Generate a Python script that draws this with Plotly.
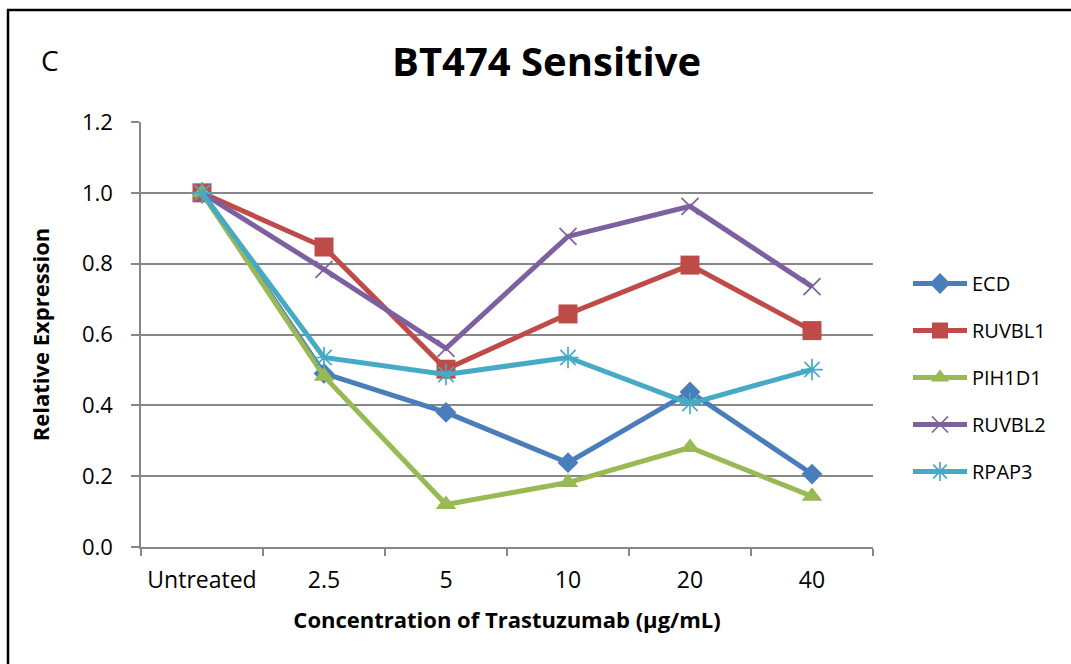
import plotly.graph_objects as go

categories = ["Untreated", "2.5", "5", "10", "20", "40"]
ecd = [1.0, 0.49, 0.38, 0.238, 0.438, 0.206]
ruvbl1 = [1.0, 0.847, 0.502, 0.658, 0.796, 0.611]
pih1d1 = [1.0, 0.482, 0.12, 0.182, 0.281, 0.143]
ruvbl2 = [1.0, 0.784, 0.561, 0.877, 0.962, 0.735]
rpap3 = [1.0, 0.535, 0.487, 0.535, 0.405, 0.501]
y_ticks = [0.0, 0.2, 0.4, 0.6, 0.8, 1.0, 1.2]

FONT = "Open Sans"
W, H = 1071, 664
L, R, T, B = 141, 873, 122, 547

series = [
    ("ECD", ecd, "#4A7EBB", dict(symbol="diamond", size=16)),
    ("RUVBL1", ruvbl1, "#BE4B48", dict(symbol="square", size=19)),
    ("PIH1D1", pih1d1, "#98B954", dict(symbol="triangle-up", size=18)),
    ("RUVBL2", ruvbl2, "#7D60A0", dict(symbol="x-thin-open", size=17, line=dict(width=1.7, color="#7D60A0"))),
    ("RPAP3", rpap3, "#46AAC5", dict(symbol="asterisk-open", size=18, line=dict(width=1.7, color="#46AAC5"))),
]

fig = go.Figure()
for name, vals, color, mk in series:
    m = dict(color=color)
    m.update(mk)
    fig.add_trace(go.Scatter(
        x=categories, y=vals, name=name, mode="lines+markers",
        line=dict(color=color, width=5), marker=m, legendgroup=name,
    ))

def px(x):
    return (x - L) / (R - L)

def py(y):
    return (B - y) / (B - T)

fig.update_layout(
    width=W, height=H,
    margin=dict(l=L, r=W - R, t=T, b=H - B),
    paper_bgcolor="white", plot_bgcolor="white",
    font=dict(family=FONT, size=20, color="black"),
    showlegend=True,
    legend=dict(x=px(908), y=py(264), xanchor="left", yanchor="top",
                font=dict(family=FONT, size=20, color="black"),
                tracegroupgap=18, itemwidth=54, bgcolor="rgba(0,0,0,0)"),
    xaxis=dict(type="category", tickson="boundaries", ticks="outside", ticklen=7,
               tickcolor="#878787", tickwidth=1.5, showline=True, linecolor="#878787",
               linewidth=1.5, showgrid=False, tickfont=dict(family=FONT, size=23),
               ticklabelstandoff=12,
               title=dict(text="<b>Concentration of Trastuzumab (μg/mL)</b>",
                          font=dict(family=FONT, size=22), standoff=18),
               range=[-0.5, 5.5]),
    yaxis=dict(range=[0, 1.2], tickvals=y_ticks, tickformat=".1f", ticks="outside",
               ticklen=8, tickcolor="#878787", tickwidth=1.5, showline=True,
               linecolor="#878787", linewidth=1.5, showgrid=True, gridcolor="#878787",
               gridwidth=1.5, zeroline=False, tickfont=dict(family=FONT, size=22),
               ticklabelstandoff=14,
               title=dict(text="<b>Relative Expression</b>", font=dict(family=FONT, size=22),
                          standoff=26)),
    annotations=[
        dict(text="<b>BT474 Sensitive</b>", x=px(546), y=py(61), xref="paper", yref="paper",
             showarrow=False, font=dict(family=FONT, size=40, color="black"),
             xanchor="center", yanchor="middle"),
        dict(text="C", x=px(50), y=py(60), xref="paper", yref="paper",
             showarrow=False, font=dict(family=FONT, size=28, color="black"),
             xanchor="center", yanchor="middle"),
    ],
    shapes=[
        dict(type="line", xref="paper", yref="paper", x0=px(8), x1=px(8), y0=py(670), y1=py(10),
             line=dict(color="black", width=2.5)),
        dict(type="line", xref="paper", yref="paper", x0=px(7), x1=px(1080), y0=py(10), y1=py(10),
             line=dict(color="black", width=2.5)),
    ],
)

fig.write_html("out.html", config={"displayModeBar": False},
               post_script="document.body.style.margin='0';document.body.style.overflow='hidden';")
